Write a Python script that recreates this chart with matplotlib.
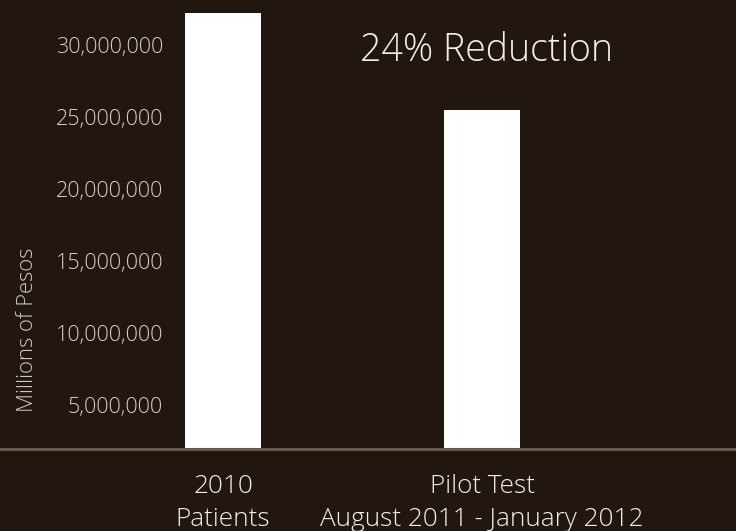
import matplotlib
matplotlib.use("Agg")
import matplotlib.pyplot as plt

# --- data ---
categories = ["2010\nPatients", "Pilot Test\nAugust 2011 - January 2012"]
costs = [32200000, 25500000]
ytick_values = [5000000, 10000000, 15000000, 20000000, 25000000, 30000000]
ytick_labels = ["5,000,000", "10,000,000", "15,000,000", "20,000,000", "25,000,000", "30,000,000"]
note = "24% Reduction"

bg = "#211610"
plt.rcParams['font.family'] = ['Open Sans', 'DejaVu Sans']

W, H = 736, 531
fig = plt.figure(figsize=(W / 100, H / 100), dpi=100, facecolor=bg)
left_px, base_px = 170, 449
ax = fig.add_axes([left_px / W, (H - base_px) / H, 1 - left_px / W, base_px / H])
ax.set_facecolor(bg)

x = [0, 1]
ax.bar(x, costs, width=76 / 259, color="white", zorder=3)

ax.set_xlim(-53 / 259, 513 / 259)
ax.set_ylim(28 / 14.4 * 1e6, 477 / 14.4 * 1e6)

ax.set_yticks(ytick_values, ytick_labels)
ax.set_xticks(x, categories)
ax.tick_params(axis='y', length=0, pad=5, labelsize=15.5, labelcolor="#d6d0ca")
ax.tick_params(axis='x', length=0, pad=18, labelsize=18.8, labelcolor="#f2efeb")
for lbl in ax.get_xticklabels():
    lbl.set_linespacing(1.4)
for lbl in ax.get_yticklabels() + ax.get_xticklabels():
    lbl.set_fontweight('light')

for s in ax.spines.values():
    s.set_visible(False)

# baseline runs across the whole picture
ax.axhline(ax.get_ylim()[0], xmin=-left_px / (W - left_px), xmax=1,
           color="#6a5a4c", lw=2.2, clip_on=False, zorder=4)

ax.text(486 / W, 1 - 51 / H, note, transform=fig.transFigure, ha='center', va='center',
        fontsize=27, color="#f2efeb", fontweight='light')
fig.text(28 / W, 1 - 330 / H, "Millions of Pesos", rotation=90, ha='center', va='center',
         fontsize=15.8, color="#cfc9c3", fontweight='light')

fig.savefig("out.png", dpi=100, facecolor=bg)
